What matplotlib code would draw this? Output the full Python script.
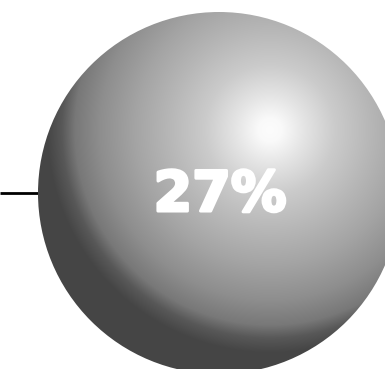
import numpy as np
import matplotlib.pyplot as plt
import matplotlib.patheffects as pe
from matplotlib.patches import Circle

# value shown on the ball
share = 27
label = f'{share}%'

# canvas in pixels
W, H = 385, 369
cx, cy, r = 219, 193, 181      # ball centre / radius
hx, hy = 270, 130              # highlight spot

# shade ramp: distance from highlight -> grey level
ramp_d = [0, 12, 35, 65, 100, 135, 170, 195, 208, 222, 400]
ramp_v = [252, 249, 228, 203, 183, 164, 142, 120, 88, 70, 68]

fig = plt.figure(figsize=(W / 100, H / 100), dpi=100)
ax = fig.add_axes([0, 0, 1, 1])
ax.set_xlim(0, W)
ax.set_ylim(H, 0)
ax.axis('off')

# leader line into the ball
ax.plot([0, cx - r + 2], [cy, cy], color='black', lw=2.0, solid_capstyle='butt', zorder=1)

# radial shading
yy, xx = np.mgrid[0:H, 0:W] + 0.5
d = np.hypot(xx - hx, yy - hy)
shade = np.interp(d, ramp_d, ramp_v) / 255.0
img = np.dstack([shade, shade, shade])

ball = Circle((cx, cy), r, transform=ax.transData, facecolor='none', edgecolor='none')
ax.add_patch(ball)
im = ax.imshow(img, extent=[0, W, H, 0], interpolation='bilinear', zorder=2)
im.set_clip_path(ball)

# heavy white label (stroke thickens the bold face)
ax.text(cx + 1, cy + 3, label, color='white', fontsize=40, fontweight='bold',
        family='DejaVu Sans', ha='center', va='center', zorder=3,
        path_effects=[pe.withStroke(linewidth=2.2, foreground='white')])

fig.savefig('out.png', dpi=100)
